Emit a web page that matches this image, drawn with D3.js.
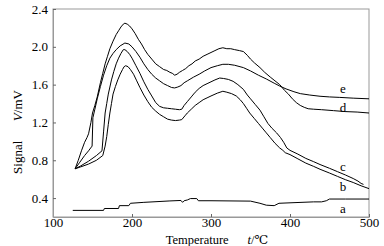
<!DOCTYPE html>
<html><head><meta charset="utf-8">
<script src="https://cdn.jsdelivr.net/npm/d3@7"></script>
<style>
html,body{margin:0;padding:0;background:#fff;}
svg text{font-family:"Liberation Serif","DejaVu Serif",serif;}
</style></head>
<body><svg id="c" width="384" height="246"></svg>
<script>
const xTicks = [100, 200, 300, 400, 500];
const yTicks = [0.4, 0.8, 1.2, 1.6, 2.0, 2.4];

const tA = [125,164,165,183,184,196,198,215,248,262,264,266,270,274,282,284,300,350,362,370,380,386,400,430,440,446,450,470,500];
const vA = [.27,.27,.29,.29,.32,.32,.345,.355,.37,.375,.355,.372,.38,.395,.395,.372,.372,.368,.345,.325,.32,.345,.35,.36,.36,.372,.39,.39,.39];

const tB = [128,135,145,155,163,166,168,170,172,174,176,179,182,185,188,190,192,195,198,202,206,210,215,220,225,230,235,240,245,250,255,260,263,267,270,275,280,285,290,295,300,308,315,320,326,332,337,341,345,349,355,360,365,370,375,381,387,391,394,400,410,420,430,438,450,460,470,480,490,500];
const vB = [.71,.73,.76,.80,.85,.95,1.05,1.18,1.30,1.40,1.50,1.58,1.65,1.71,1.76,1.79,1.80,1.79,1.76,1.71,1.64,1.57,1.49,1.42,1.36,1.32,1.285,1.26,1.235,1.225,1.22,1.225,1.23,1.27,1.30,1.34,1.38,1.41,1.44,1.46,1.48,1.51,1.53,1.52,1.505,1.48,1.44,1.40,1.35,1.30,1.24,1.19,1.14,1.09,1.04,.98,.93,.905,.88,.86,.815,.77,.735,.705,.665,.63,.595,.565,.53,.50];

const tC = [128,135,145,155,162,164,166,168,170,174,177,180,183,186,189,191,194,197,200,205,210,215,220,225,230,235,240,245,250,255,260,263,266,270,275,280,285,290,295,300,305,311,316,322,328,334,341,346,350,356,362,367,372,377,383,388,392,396,400,410,420,430,438,450,460,470,480,486,490,493];
const vC = [.71,.74,.79,.85,.90,1.10,1.30,1.40,1.50,1.65,1.74,1.82,1.88,1.93,1.97,1.97,1.95,1.92,1.88,1.80,1.72,1.63,1.55,1.48,1.41,1.37,1.355,1.35,1.345,1.34,1.335,1.34,1.38,1.42,1.47,1.52,1.56,1.59,1.61,1.63,1.65,1.67,1.665,1.655,1.635,1.60,1.55,1.49,1.45,1.39,1.33,1.26,1.19,1.14,1.09,1.04,.99,.93,.905,.865,.82,.785,.755,.715,.68,.645,.607,.58,.555,.545];

const tD = [128,132,136,140,143,145,148,150,153,156,160,163,166,169,172,176,180,183,186,189,191,194,197,200,204,208,212,216,220,225,230,235,240,244,248,251,254,257,260,264,268,272,276,280,285,290,295,300,305,310,315,320,325,330,336,341,346,350,355,362,368,375,381,387,393,398,403,408,413,418,423,430,440,455,470,485,500];
const vD = [.71,.80,.90,.99,1.04,1.08,1.20,1.30,1.38,1.47,1.62,1.72,1.82,1.90,1.98,2.06,2.13,2.17,2.21,2.24,2.25,2.24,2.22,2.19,2.14,2.08,2.03,1.97,1.92,1.87,1.82,1.79,1.76,1.75,1.73,1.72,1.70,1.71,1.73,1.75,1.77,1.80,1.82,1.85,1.87,1.90,1.92,1.94,1.96,1.98,1.99,1.98,1.98,1.97,1.96,1.95,1.91,1.87,1.83,1.78,1.73,1.68,1.64,1.60,1.54,1.50,1.45,1.41,1.38,1.36,1.345,1.34,1.335,1.325,1.315,1.31,1.30];

const tE = [128,134,140,145,149.5,150.5,153,156,160,164,168,172,176,180,185,191,196,200,205,210,215,220,225,230,235,240,245,250,254,258,262,266,270,278,285,292,300,308,315,322,330,341,350,360,370,380,387,395,405,413,425,438,450,463,480,500];
const vE = [.71,.78,.85,.90,.95,1.25,1.34,1.45,1.58,1.70,1.80,1.88,1.93,1.97,2.01,2.04,2.03,2.00,1.95,1.89,1.82,1.76,1.71,1.67,1.64,1.61,1.59,1.57,1.565,1.575,1.59,1.62,1.64,1.68,1.71,1.745,1.78,1.80,1.815,1.815,1.805,1.78,1.745,1.70,1.66,1.615,1.585,1.555,1.525,1.505,1.49,1.477,1.47,1.465,1.457,1.45];

const seriesNames = ["a","b","c","d","e"];

const FONT = '"Liberation Serif","DejaVu Serif",serif';
const svg = d3.select("#c");
const L = 53, R = 369, T = 9, B = 217;
const x = d3.scaleLinear().domain([100, 500]).range([L, R]);
const y = d3.scaleLinear().domain([0.2, 2.4]).range([B, T]);

svg.append("rect").attr("x", L).attr("y", T).attr("width", R - L).attr("height", B - T)
  .attr("fill", "none").attr("stroke", "#999").attr("stroke-width", 1);

const xAxis = svg.append("g").attr("transform", `translate(0,${B})`)
  .call(d3.axisBottom(x).tickValues(xTicks).tickSizeInner(-3).tickSizeOuter(0).tickPadding(1).tickFormat(d3.format("d")));
const yAxis = svg.append("g").attr("transform", `translate(${L},0)`)
  .call(d3.axisLeft(y).tickValues(yTicks).tickSizeInner(-3).tickSizeOuter(0).tickPadding(5).tickFormat(d3.format(".1f")));
[xAxis, yAxis].forEach(g => {
  g.attr("font-family", FONT).attr("font-size", 13);
  g.select(".domain").attr("stroke", "#999");
  g.selectAll(".tick line").attr("stroke", "#666");
  g.selectAll("text").attr("fill", "#000").attr("font-family", FONT).attr("font-size", 13);
});

const line = d3.line().x(d => x(d[0])).y(d => y(d[1]));
const all = [[tA, vA], [tB, vB], [tC, vC], [tD, vD], [tE, vE]];
all.forEach(([ts, vs]) => {
  svg.append("path").datum(ts.map((t, i) => [t, vs[i]]))
    .attr("d", line).attr("fill", "none").attr("stroke", "#000").attr("stroke-width", 1);
});

const labelV = [0.29, 0.52, 0.73, 1.36, 1.56];
seriesNames.forEach((n, i) => {
  svg.append("text").attr("x", x(467)).attr("y", y(labelV[i]) + 4.5)
    .attr("text-anchor", "middle").attr("font-family", FONT).attr("font-size", 13).text(n);
});

const xt = svg.append("text").attr("x", 217).attr("y", 244).attr("text-anchor", "middle")
  .attr("font-family", FONT).attr("font-size", 12.5);
xt.append("tspan").text("Temperature\u2003\u2002");
xt.append("tspan").attr("font-style", "italic").text("t");
xt.append("tspan").text("/\u2103");

const yt = svg.append("text").attr("transform", "translate(22,132) rotate(-90)").attr("text-anchor", "middle")
  .attr("font-family", FONT).attr("font-size", 13);
yt.append("tspan").text("Signal\u2003\u2002");
yt.append("tspan").attr("font-style", "italic").text("V");
yt.append("tspan").text("/mV");
</script></body></html>
